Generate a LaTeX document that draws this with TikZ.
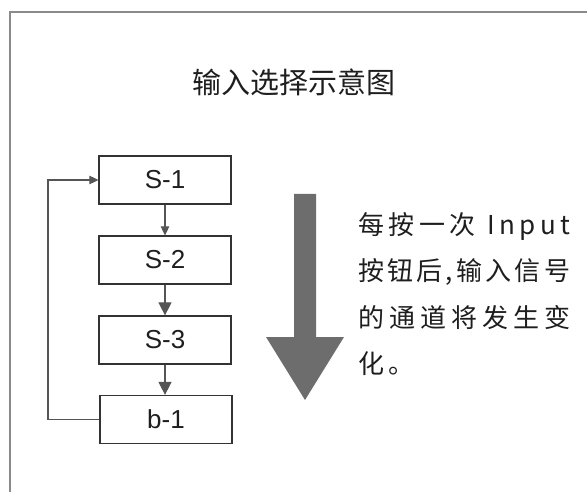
\documentclass[tikz,border=0pt]{standalone}
\usepackage{fontspec}
\setmainfont{Liberation Sans}
\newfontfamily\cjk{Noto Sans CJK SC}
\usetikzlibrary{arrows.meta}
\definecolor{framegray}{HTML}{8A8A8A}
\definecolor{boxline}{HTML}{333333}
\definecolor{conn}{HTML}{555555}
\definecolor{bigarrow}{HTML}{6D6D6D}
\definecolor{txt}{HTML}{1E1E1E}
\tikzset{
  stepbox/.style={draw=boxline, line width=1.2pt, minimum width=132pt, minimum height=48pt, inner sep=0pt,
    font=\fontsize{26}{30}\selectfont, text=txt},
  smallhead/.style={draw=conn, line width=1.1pt, -{Triangle[length=9pt,width=8.5pt]}},
  bighead/.style={draw=conn, line width=1.1pt, -{Triangle[length=13pt,width=13pt]}},
  sidetext/.style={anchor=west, inner sep=0pt, text=txt, font=\cjk\fontsize{26}{30}\selectfont}
}
\begin{document}
\begin{tikzpicture}[x=1pt,y=-1pt]
\useasboundingbox (0,0) rectangle (587,492);
% frame
\draw[framegray, line width=2pt] (9.5,500) -- (9.5,12) -- (600,12);
% title
\node[inner sep=0pt, text=txt, font=\cjk\fontsize{29}{34}\selectfont] (title) at (294,82) {输入选择示意图};
% boxes
\node[stepbox] (s1) at (165,180) {S-1};
\node[stepbox] (s2) at (165,260) {S-2};
\node[stepbox] (s3) at (165,340) {S-3};
\node[stepbox] (b1) at (166,419.5) {b-1};
% connectors
\draw[smallhead] (s1.south) -- (s2.north);
\draw[bighead] (s2.south) -- (s3.north);
\draw[bighead] (s3.south) -- (s3.south |- b1.north);
\coordinate (loopx) at (48,0);
\draw[smallhead] (b1.west) -- (loopx |- b1.west) -- (loopx |- s1.west) -- (s1.west);
% big arrow
\fill[bigarrow] (294,194) -- (316,194) -- (316,337) -- (344,337) -- (305,400) -- (266,337) -- (294,337) -- cycle;
% side text
\node[sidetext] (l1) at (358,226) {\makebox[212pt][s]{每\hfil 按\hfil 一\hfil 次\hfil\hspace{7pt}I\hspace{4.5pt}n\hspace{4.5pt}p\hspace{4.5pt}u\hspace{4.5pt}t}};
\node[sidetext] (l2) at (358,272) {\makebox[212pt][s]{按\hfil 钮\hfil 后\hfil ,\hfil 输\hfil 入\hfil 信\hfil 号}};
\node[sidetext] (l3) at (358,318) {\makebox[212pt][s]{的\hfil 通\hfil 道\hfil 将\hfil 发\hfil 生\hfil 变}};
\node[sidetext] (l4) at (358,364) {化\hspace{4pt}。};
\end{tikzpicture}
\end{document}
